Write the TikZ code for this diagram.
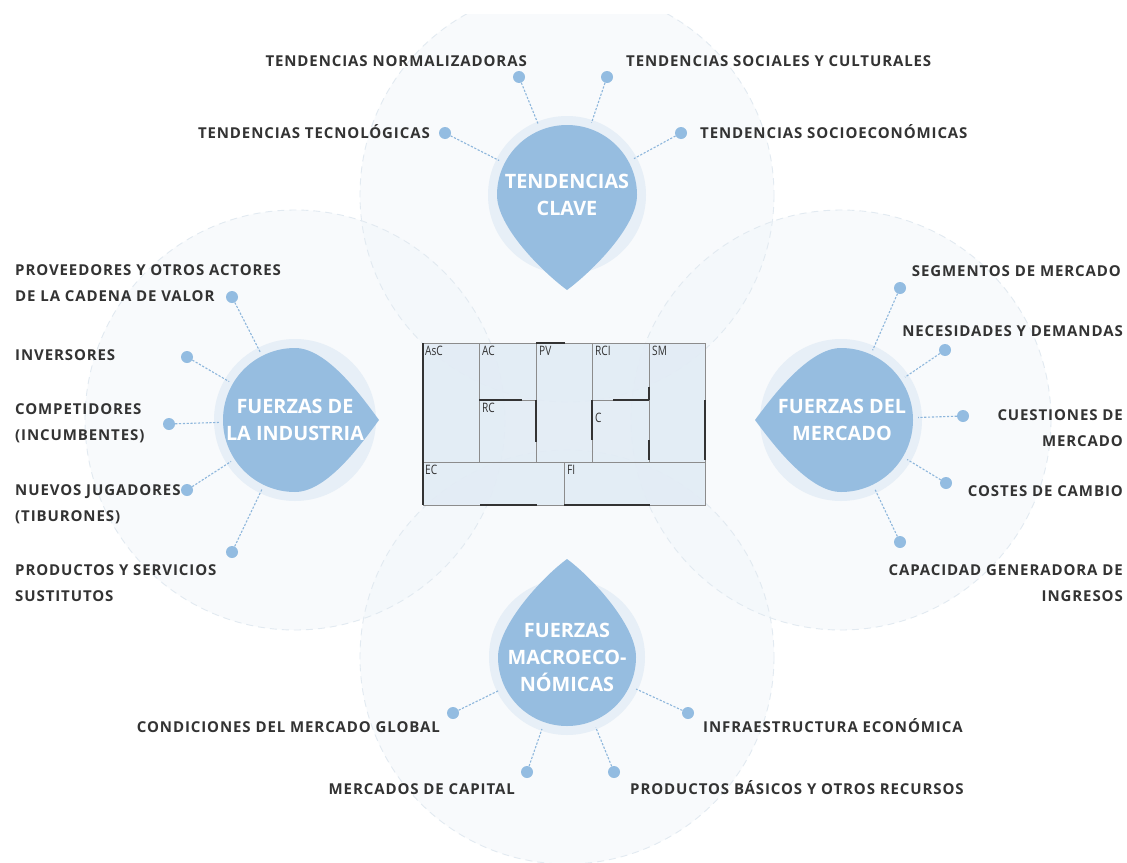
\documentclass[tikz,border=0pt]{standalone}
\usepackage{fontspec}
\usepackage{graphicx}
\setmainfont{Open Sans}
\newfontfamily\labfont[LetterSpace=6]{Open Sans}
\usetikzlibrary{calc}
\definecolor{dropc}{HTML}{96BDE0}
\definecolor{haloc}{HTML}{E7EFF7}
\definecolor{dotc}{HTML}{93BCE1}
\definecolor{linec}{HTML}{8DB6DC}
\definecolor{txtc}{HTML}{333333}
\definecolor{bigc}{HTML}{F2F7FB}
\definecolor{bigline}{HTML}{E2EAF1}
\definecolor{canvasc}{HTML}{E2ECF5}
\definecolor{cellline}{HTML}{8C8C8C}
\definecolor{darkline}{HTML}{333333}
\newcommand{\cnd}[1]{\scalebox{0.78}[1]{#1}}
\newcommand{\dropshape}[5]{%
  \begin{scope}[shift={(#1,#2)}, rotate=#5]
    \fill[haloc] (0,0) circle[radius=#3+9];
    \fill[dropc] (#4,0) .. controls ({0.8*#4},{-0.27*#4}) and ({0.45*#3},{-#3}) .. (0,{-#3})
      arc[start angle=-90, end angle=-270, radius=#3]
      .. controls ({0.45*#3},{#3}) and ({0.8*#4},{0.27*#4}) .. (#4,0) -- cycle;
  \end{scope}}
\tikzset{
  dot/.style={circle, fill=dotc, inner sep=0pt, minimum size=12pt},
  conn/.style={linec, line width=1.1pt, dash pattern=on 2.2pt off 1.6pt},
  hub/.style={circle, inner sep=0pt, minimum size=152pt, text=white, align=center,
    font=\bfseries\fontsize{19.8}{27}\selectfont},
  lab/.style={text=txtc, inner sep=0pt, font=\labfont\bfseries\fontsize{15}{25.5}\selectfont},
  lone/.style={lab, text height=10.7pt, text depth=0pt},
  cell/.style={draw=cellline, fill=canvasc, fill opacity=0.92, line width=0.8pt},
  cl/.style={text=darkline, inner sep=0pt, font=\fontsize{13}{13}\selectfont},
  dk/.style={darkline, line width=1.5pt},
  big/.style={bigc, fill opacity=0.5},
  bigo/.style={bigline, line width=0.9pt, dash pattern=on 7pt off 5pt}
}
\begin{document}
\begin{tikzpicture}[x=1pt,y=-1pt]
\useasboundingbox (0,0) rectangle (1127,862);
\fill[white] (0,0) rectangle (1127,862);
% big background circles
\begin{scope}
  \clip (0,14) rectangle (1127,862);
  \fill[big] (567,195) circle[radius=207];
  \fill[big] (295,420) circle[radius=210];
  \fill[big] (841,420) circle[radius=210];
  \fill[big] (567,657) circle[radius=207];
  \draw[bigo] (567,195) circle[radius=207];
  \draw[bigo] (295,420) circle[radius=210];
  \draw[bigo] (841,420) circle[radius=210];
  \draw[bigo] (567,657) circle[radius=207];
\end{scope}
% central canvas
\draw[cell] (423,343) rectangle (479,462);
\draw[cell] (479,343) rectangle (536,400);
\draw[cell] (479,400) rectangle (536,462);
\draw[cell] (536,343) rectangle (592,462);
\draw[cell] (592,343) rectangle (649,400);
\draw[cell] (592,400) rectangle (649,462);
\draw[cell] (649,343) rectangle (705,462);
\draw[cell] (423,462) rectangle (564,505);
\draw[cell] (564,462) rectangle (705,505);
\draw[dk] (423,343) -- (423,505);
\draw[dk] (536,343) -- (565,343);
\draw[dk] (479,400) -- (522,400);
\draw[dk] (536,400) -- (536,442);
\draw[dk] (613,400) -- (649,400);
\draw[dk] (592,400) -- (592,440);
\draw[dk] (649,387) -- (649,400);
\draw[dk] (649,440) -- (649,460);
\draw[dk] (705,400) -- (705,460);
\draw[dk] (480,505) -- (537,505);
\draw[dk] (564,505) -- (650,505);
\node[cl, anchor=north west] (lasc) at (425,346) {\cnd{AsC}};
\node[cl, anchor=north west] (lac) at (482,346) {\cnd{AC}};
\node[cl, anchor=north west] (lrc) at (482,403) {\cnd{RC}};
\node[cl, anchor=north west] (lpv) at (539,346) {\cnd{PV}};
\node[cl, anchor=north west] (lrci) at (595,346) {\cnd{RCI}};
\node[cl, anchor=north west] (lc) at (595,413) {\cnd{C}};
\node[cl, anchor=north west] (lsm) at (652,346) {\cnd{SM}};
\node[cl, anchor=north west] (lec) at (425,465) {\cnd{EC}};
\node[cl, anchor=north west] (lfi) at (567,465) {\cnd{FI}};
% drops
\dropshape{567}{195}{70}{95}{-90}
\dropshape{295}{420}{72}{84}{0}
\dropshape{841}{420}{72}{86}{180}
\dropshape{567}{657}{69}{98}{90}
\node[hub] (tc) at (567,195) {TENDENCIAS\\CLAVE};
\node[hub] (fi) at (295,420) {FUERZAS DE\\LA INDUSTRIA};
\node[hub] (fm) at (842,420) {FUERZAS DEL\\MERCADO};
\node[hub] (fmac) at (567,657) {FUERZAS\\MACROECO-\\NÓMICAS};
% top
\node[dot] (d1) at (519,77) {};
\node[dot] (d2) at (607,77) {};
\node[dot] (d3) at (445,133) {};
\node[dot] (d4) at (681,133) {};
\node[lone, anchor=east] (t1) at (527,61) {TENDENCIAS NORMALIZADORAS};
\node[lone, anchor=west] (t2) at (626,61) {TENDENCIAS SOCIALES Y CULTURALES};
\node[lone, anchor=east] (t3) at (430,133) {TENDENCIAS TECNOLÓGICAS};
\node[lone, anchor=west] (t4) at (700,133) {TENDENCIAS SOCIOECONÓMICAS};
\foreach \d in {d1,d2,d3,d4} \draw[conn] (\d) -- (tc);
% left
\node[dot] (l1) at (232,297) {};
\node[dot] (l2) at (187,357) {};
\node[dot] (l3) at (169,424) {};
\node[dot] (l4) at (187,490) {};
\node[dot] (l5) at (232,552) {};
\node[lab, anchor=west, align=left] (tl1) at (15,283) {PROVEEDORES Y OTROS ACTORES\\DE LA CADENA DE VALOR};
\node[lone, anchor=west] (tl2) at (15,355) {INVERSORES};
\node[lab, anchor=west, align=left] (tl3) at (15,423) {COMPETIDORES\\(INCUMBENTES)};
\node[lab, anchor=west, align=left] (tl4) at (15,504) {NUEVOS JUGADORES\\(TIBURONES)};
\node[lab, anchor=west, align=left] (tl5) at (15,583) {PRODUCTOS Y SERVICIOS\\SUSTITUTOS};
\foreach \d in {l1,l2,l3,l4,l5} \draw[conn] (\d) -- (fi);
% right
\node[dot] (r1) at (900,288) {};
\node[dot] (r2) at (945,350) {};
\node[dot] (r3) at (963,416) {};
\node[dot] (r4) at (946,483) {};
\node[dot] (r5) at (900,542) {};
\node[lone, anchor=east] (tr1) at (1121,271) {SEGMENTOS DE MERCADO};
\node[lone, anchor=east] (tr2) at (1123,331) {NECESIDADES Y DEMANDAS};
\node[lab, anchor=east, align=right] (tr3) at (1123,428) {CUESTIONES DE\\MERCADO};
\node[lone, anchor=east] (tr4) at (1123,491) {COSTES DE CAMBIO};
\node[lab, anchor=east, align=right] (tr5) at (1123,583) {CAPACIDAD GENERADORA DE\\INGRESOS};
\foreach \d in {r1,r2,r3,r4,r5} \draw[conn] (\d) -- (fm);
% bottom
\node[dot] (b1) at (453,713) {};
\node[dot] (b2) at (688,713) {};
\node[dot] (b3) at (527,772) {};
\node[dot] (b4) at (614,772) {};
\node[lone, anchor=east] (tb1) at (440,727) {CONDICIONES DEL MERCADO GLOBAL};
\node[lone, anchor=west] (tb2) at (703,727) {INFRAESTRUCTURA ECONÓMICA};
\node[lone, anchor=east] (tb3) at (515,789) {MERCADOS DE CAPITAL};
\node[lone, anchor=west] (tb4) at (630,789) {PRODUCTOS BÁSICOS Y OTROS RECURSOS};
\foreach \d in {b1,b2,b3,b4} \draw[conn] (\d) -- (fmac);
\end{tikzpicture}
\end{document}
